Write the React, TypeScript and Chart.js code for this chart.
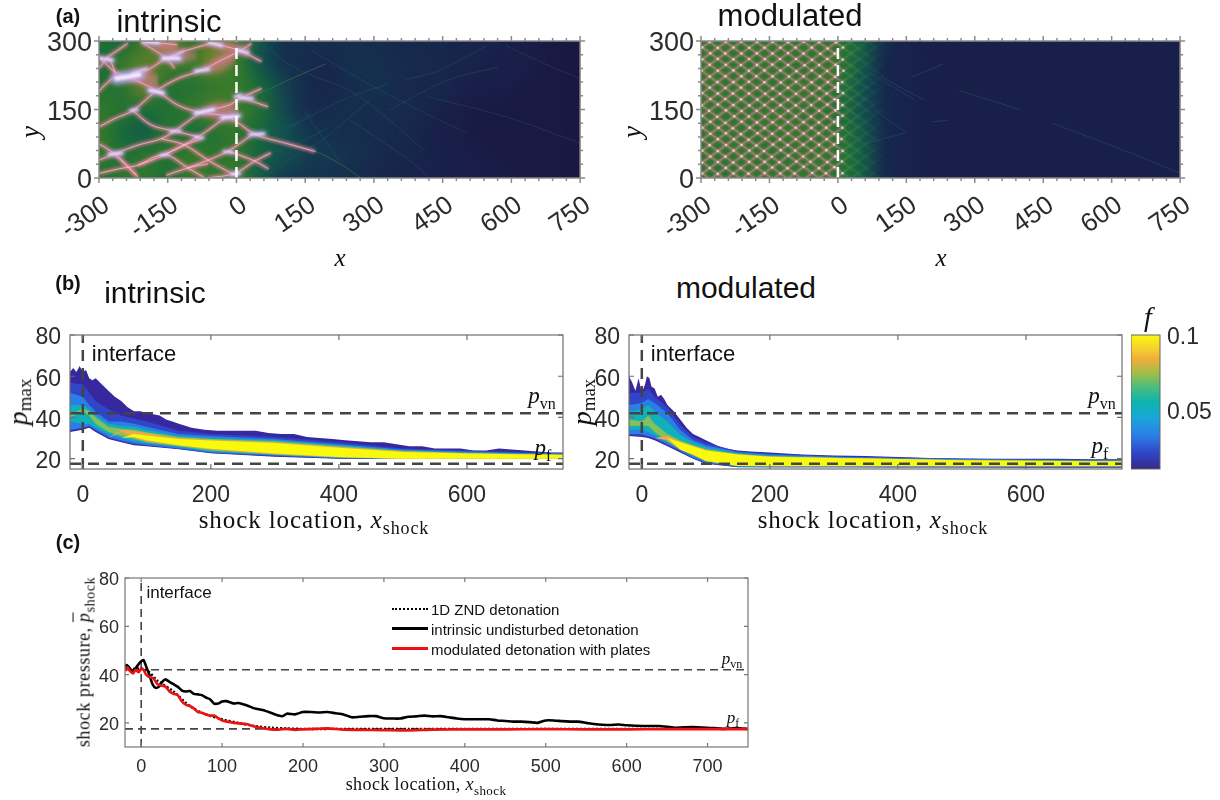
import React, { useEffect, useRef } from "react";
import { Chart, registerables } from "chart.js";

type Pt = [number, number];
const SANS = '"Liberation Sans", Arial, sans-serif';
const SERIF = '"Liberation Serif", "DejaVu Serif", serif';

// registered ahead of the filler, so that a dataset's soft fill is blurred as well
const softPlugin = {
  id: "soft",
  beforeDatasetDraw(chart: any, args: any) {
    const ds = chart.data.datasets[args.index];
    chart.ctx.save();
    if (ds.soft) chart.ctx.filter = `blur(${ds.soft}px)`;
  },
  afterDatasetDraw(chart: any) {
    chart.ctx.restore();
  },
};
Chart.register(softPlugin as any);
Chart.register(...registerables);

// ---------- panel (a): values ----------
const aXTicks = [-300, -150, 0, 150, 300, 450, 600, 750];
const aYTicks = [0, 150, 300];
const aXMinor = [-270, -240, -210, -180, -120, -90, -60, -30, 30, 60, 90, 120, 180, 210, 240, 270, 330, 360, 390, 420, 480, 510, 540, 570, 630, 660, 690, 720];
const aYMinor = [30, 60, 90, 120, 180, 210, 240, 270];
const fieldX = [-300, -250, -200, -150, -100, -50, 0, 50, 100, 150, 200, 250, 300, 350, 400, 450, 500, 550, 600, 650, 700, 750];
const fieldY = [300, 250, 200, 150, 100, 50, 0];
const intrinsicField = [
  [0.48, 0.42, 0.58, 0.68, 0.52, 0.66, 0.58, 0.33, 0.17, 0.15, 0.15, 0.15, 0.14, 0.13, 0.12, 0.11, 0.1, 0.09, 0.07, 0.05, 0.03, 0.02],
  [0.44, 0.56, 0.62, 0.58, 0.56, 0.64, 0.56, 0.33, 0.18, 0.14, 0.12, 0.16, 0.16, 0.14, 0.13, 0.11, 0.1, 0.08, 0.07, 0.05, 0.03, 0.02],
  [0.5, 0.5, 0.64, 0.5, 0.5, 0.54, 0.56, 0.44, 0.26, 0.14, 0.11, 0.14, 0.16, 0.14, 0.12, 0.11, 0.08, 0.07, 0.05, 0.04, 0.03, 0.02],
  [0.54, 0.5, 0.46, 0.48, 0.54, 0.6, 0.58, 0.48, 0.28, 0.15, 0.14, 0.16, 0.14, 0.14, 0.12, 0.08, 0.05, 0.04, 0.04, 0.03, 0.03, 0.02],
  [0.56, 0.44, 0.36, 0.52, 0.46, 0.5, 0.54, 0.42, 0.32, 0.21, 0.16, 0.15, 0.14, 0.13, 0.1, 0.07, 0.05, 0.04, 0.04, 0.03, 0.03, 0.02],
  [0.54, 0.48, 0.52, 0.5, 0.56, 0.52, 0.54, 0.4, 0.3, 0.23, 0.2, 0.17, 0.14, 0.11, 0.1, 0.08, 0.06, 0.05, 0.04, 0.04, 0.03, 0.02],
  [0.48, 0.53, 0.53, 0.46, 0.56, 0.54, 0.56, 0.36, 0.22, 0.19, 0.17, 0.15, 0.12, 0.1, 0.09, 0.08, 0.07, 0.05, 0.05, 0.04, 0.03, 0.02],
];
const modulatedField = [
  [0.52, 0.54, 0.52, 0.53, 0.54, 0.52, 0.52, 0.4, 0.16, 0.09, 0.08, 0.08, 0.08, 0.08, 0.08, 0.08, 0.08, 0.08, 0.08, 0.08, 0.08, 0.08],
  [0.54, 0.53, 0.52, 0.54, 0.52, 0.53, 0.53, 0.36, 0.12, 0.09, 0.08, 0.08, 0.08, 0.08, 0.08, 0.08, 0.08, 0.08, 0.08, 0.08, 0.08, 0.08],
  [0.53, 0.54, 0.54, 0.52, 0.54, 0.54, 0.51, 0.32, 0.13, 0.09, 0.08, 0.08, 0.08, 0.08, 0.08, 0.08, 0.08, 0.08, 0.08, 0.08, 0.08, 0.08],
  [0.54, 0.52, 0.53, 0.54, 0.53, 0.52, 0.49, 0.3, 0.14, 0.09, 0.08, 0.08, 0.08, 0.08, 0.08, 0.08, 0.08, 0.08, 0.08, 0.08, 0.08, 0.08],
  [0.52, 0.54, 0.52, 0.53, 0.54, 0.53, 0.51, 0.36, 0.14, 0.09, 0.08, 0.08, 0.08, 0.08, 0.08, 0.08, 0.08, 0.08, 0.08, 0.08, 0.08, 0.08],
  [0.53, 0.51, 0.54, 0.52, 0.53, 0.54, 0.52, 0.38, 0.13, 0.09, 0.08, 0.08, 0.08, 0.08, 0.08, 0.08, 0.08, 0.08, 0.08, 0.08, 0.08, 0.08],
  [0.51, 0.5, 0.53, 0.54, 0.52, 0.53, 0.51, 0.38, 0.14, 0.09, 0.08, 0.08, 0.08, 0.08, 0.08, 0.08, 0.08, 0.08, 0.08, 0.08, 0.08, 0.08],
];
const fieldStops: [number, number[]][] = [
  [0, [26, 20, 62]], [0.08, [24, 32, 74]], [0.2, [20, 54, 80]], [0.32, [18, 84, 78]], [0.45, [24, 108, 56]],
  [0.56, [54, 122, 42]], [0.66, [116, 128, 44]], [0.76, [196, 136, 120]], [0.88, [226, 170, 200]], [1, [255, 255, 255]],
];

const cellArcs1: Pt[][] = [
  [[-300, 189], [-288, 203], [-262, 222], [-237, 219], [-200, 233], [-153, 262], [-120, 276], [-55, 295]],
  [[-237, 222], [-175, 192], [-127, 159], [-76, 143], [-18, 134], [40, 96], [108, 76], [172, 58]],
  [[-300, 266], [-266, 233], [-237, 222]],
  [[-208, 298], [-153, 262], [-135, 240]],
  [[-175, 192], [-127, 218], [-76, 236], [-33, 258], [11, 280], [33, 295]],
  [[-55, 295], [4, 280], [55, 255]],
  [[-300, 112], [-266, 130], [-226, 148], [-175, 192]],
  [[-226, 148], [-186, 116], [-135, 103], [-84, 90]],
  [[-300, 75], [-266, 53], [-218, 6]],
  [[-300, 39], [-266, 53], [-215, 72], [-164, 86], [-135, 103], [-76, 143], [-18, 159], [11, 176], [55, 196]],
  [[11, 176], [69, 156]],
  [[-157, 51], [-84, 90], [-22, 134]],
  [[-300, 10], [-257, 20], [-215, 28], [-157, 51], [-113, 72], [-76, 86]],
  [[-164, 86], [-113, 72], [-62, 39], [-4, 6]],
  [[-215, 28], [-157, 51], [-106, 22], [-69, 0]],
  [[-106, 22], [-62, 39], [-18, 59], [33, 94]],
  [[-153, 6], [-106, 22], [-62, 31]],
  [[-18, 59], [40, 37], [70, 20]],
  [[-62, 0], [-4, 10], [40, 37], [75, 55]],
  [[-266, 53], [-244, 31], [-215, 2]],
  [[-285, 262], [-237, 295]],
  [[-300, 240], [-280, 262], [-262, 222]],
  [[-208, 298], [-175, 296], [-130, 292]],
];
// x0, y0, x1, y1, width
const hotStreaks1: number[][] = [
  [-262, 218, -212, 226, 9], [-228, 228, -195, 240, 3], [-190, 192, -160, 186, 5], [-160, 262, -125, 262, 6], [-142, 264, -115, 278, 2],
  [-90, 234, -60, 238, 4], [4, 280, 25, 274, 4], [-90, 142, -50, 150, 5], [-32, 132, 5, 136, 5], [5, 176, 35, 174, 4], [30, 95, 60, 97, 4],
  [-278, 52, -250, 54, 4], [-298, 262, -270, 258, 4], [-232, 148, -215, 150, 3], [-145, 102, -122, 103, 3], [-92, 90, -72, 88, 3],
  [-28, 58, -8, 56, 3], [-60, 296, -32, 290, 4], [-200, 298, -170, 296, 4], [-165, 50, -148, 52, 3], [-10, 8, 6, 10, 4], [-4, 178, 10, 182, 3],
];
// x, upper edge, lower edge of the pink tails behind the triple points
const tailX1 = [-153, -125, -85];
const tailA1 = [264, 282, 272];
const tailB1 = [258, 252, 262];
const tailX2 = [-237, -200, -170];
const tailA2 = [224, 238, 222];
const tailB2 = [214, 205, 190];
const tailX3 = [-76, -40, 0];
const tailA3 = [240, 268, 285];
const tailB3 = [232, 232, 255];
const tailX4 = [-55, -20, 30];
const tailA4 = [299, 299, 285];
const tailB4 = [290, 275, 268];
const tailX5 = [-76, -45, 5];
const tailA5 = [148, 165, 160];
const tailB5 = [138, 130, 120];
const tailX6 = [-190, -155, -125];
const tailA6 = [299, 299, 290];
const tailB6 = [296, 270, 268];
const faintArcs1: Pt[][] = [
  [[36, 178], [130, 222], [195, 250]],
  [[108, 76], [172, 58], [223, 33], [270, 1]],
  [[367, 214], [444, 236], [546, 290]],
  [[588, 290], [673, 250], [750, 218]],
  [[333, 149], [461, 214], [571, 243]],
  [[108, 105], [231, 171], [333, 207]],
  [[163, 280], [274, 214], [384, 156], [503, 98]],
  [[418, 178], [588, 134], [750, 76]],
  [[248, 127], [376, 40], [418, 4]],
  [[146, 149], [223, 40]],
  [[40, 96], [121, 116], [163, 142]],
  [[27, 40], [120, 70], [200, 110]],
  [[60, 0], [130, 50], [190, 85], [290, 170]],
  [[60, 290], [130, 240], [250, 190], [330, 130], [410, 60]],
];
const latticeUp: number[][] = [
  [-300, -292, 110, 8], [-300, -268, 110, 34], [-300, -240, 110, 58], [-300, -218, 110, 84], [-300, -190, 110, 110], [-300, -167, 110, 132],
  [-300, -140, 110, 160], [-300, -118, 110, 184], [-300, -92, 110, 210], [-300, -66, 110, 232], [-300, -42, 110, 258], [-300, -18, 110, 284],
  [-300, 8, 110, 306], [-300, 32, 110, 332], [-300, 58, 110, 358], [-300, 82, 110, 380], [-300, 108, 110, 408], [-300, 134, 110, 434],
  [-300, 158, 110, 458], [-300, 184, 110, 482], [-300, 208, 110, 508], [-300, 234, 110, 534], [-300, 258, 110, 558], [-300, 284, 110, 582],
];
const latticeDown: number[][] = [
  [-300, 12, 110, -288], [-300, 36, 110, -266], [-300, 62, 110, -238], [-300, 86, 110, -216], [-300, 112, 110, -186], [-300, 138, 110, -164],
  [-300, 160, 110, -140], [-300, 188, 110, -110], [-300, 212, 110, -90], [-300, 236, 110, -62], [-300, 262, 110, -38], [-300, 288, 110, -14],
  [-300, 312, 110, 10], [-300, 338, 110, 36], [-300, 362, 110, 64], [-300, 388, 110, 86], [-300, 412, 110, 114], [-300, 438, 110, 136],
  [-300, 462, 110, 164], [-300, 488, 110, 186], [-300, 512, 110, 214], [-300, 538, 110, 236], [-300, 564, 110, 266], [-300, 590, 110, 288],
];
const faintArcs2: Pt[][] = [
  [[469, 120], [605, 69], [750, 11]],
  [[265, 192], [401, 149]],
  [[163, 221], [231, 250]],
  [[206, 123], [240, 126]],
  [[61, 76], [146, 98]],
  [[95, 221], [189, 171]],
  [[80, 150], [120, 120], [150, 100]],
  [[70, 230], [120, 200], [170, 170]],
];
const interfaceA: Pt[] = [[0, 0], [0, 300]];

// ---------- panel (b): values ----------
const bXTicks = [0, 200, 400, 600];
const bYTicks = [20, 40, 60, 80];
const fTicks = [0.05, 0.1];
const pvn = 42;
const pf = 17.5;
const bandX = [-20, 0, 10, 20, 40, 60, 80, 100, 150, 200, 300, 400, 500, 600, 700, 750];

const b1EdgeX = [-20, -15, -10, -5, 0, 5, 10, 15, 20, 30, 40, 50, 60, 70, 80, 90, 100, 110, 120, 130, 140, 150, 170, 190, 210, 230, 250, 270, 290, 310, 330, 350, 370, 390, 410, 430, 450, 470, 490, 510, 530, 550, 570, 590, 610, 630, 650, 670, 690, 710, 730, 750];
const b1EdgeTop = [62, 64, 62, 65, 62, 63, 59, 58, 59, 56, 53, 50, 48, 45, 43, 43, 42, 41.5, 41, 39, 38, 37, 35, 34, 33.5, 33.5, 33.5, 33.5, 32.5, 32, 32, 30.5, 30, 29.5, 29, 28.5, 28, 28, 27, 26, 26, 25, 25, 25, 24, 24, 25, 24.5, 24, 23.5, 23, 23];
const b1Low0 = [33, 34, 35, 33, 29.5, 28, 26.5, 26, 24.6, 22.6, 21, 20, 20, 20, 20, 20];
const b1TopA = [57, 56, 52, 48, 44, 41, 39.5, 38, 33.5, 32, 30.5, 28, 25, 24, 23, 22.8];
const b1LowA = [33.5, 34.5, 35.5, 33.5, 30, 28.4, 27, 26.3, 24.8, 22.8, 21.2, 20.1, 20, 20, 20, 20];
const b1Top1 = [52, 50, 46, 43, 38, 38, 37, 35.5, 32, 31, 29.5, 27, 24.5, 23.5, 22.7, 22.5];
const b1Low1 = [34, 35, 36, 34, 30.5, 28.8, 27.5, 26.7, 25, 23, 21.5, 20.2, 20, 20, 20, 20];
const b1Top2 = [46, 46, 44, 41, 37, 36, 35.5, 34, 31, 30, 29, 26.5, 24, 23, 22.5, 22.3];
const b1Low2 = [38, 37, 37, 35, 32, 30, 28.5, 27.5, 25.7, 23.5, 21.8, 20.4, 20, 20, 20, 20];
const b1Top3 = [41, 44.5, 43, 40, 35.5, 34.5, 34, 32.8, 30.5, 29.5, 28.5, 26, 23.8, 22.8, 22.2, 22];
const b1Low3 = [40, 43, 41, 37, 33, 31, 29.5, 28, 26, 24, 22, 20.6, 20, 20, 20, 20];
const b1Top4 = [30, 30, 30, 30, 30, 34, 33.6, 32.3, 30, 29.2, 28, 25.7, 23.5, 22.6, 22.1, 21.9];
const b1Low4 = [30, 30, 30, 30, 30, 33, 30, 28.4, 26.3, 24.4, 22.2, 20.7, 20, 20, 20, 20];
const b1Top5 = [30, 30, 30, 30, 30, 30, 32, 31.2, 29.5, 28.8, 27.6, 25.3, 23.3, 22.5, 22, 21.8];
const b1Low5 = [30, 30, 30, 30, 30, 30, 30.5, 29, 26.5, 24.8, 22.5, 20.8, 20, 20, 20, 20];

const b2EdgeX = [-20, -15, -10, -5, 0, 5, 8, 12, 15, 20, 25, 30, 35, 40, 50, 60, 70, 80, 90, 100, 110, 120, 130, 140, 150, 170, 200, 250, 300, 350, 400, 450, 500, 550, 600, 650, 700, 750];
const b2EdgeTop = [60, 57, 53, 59, 52, 56, 60, 59, 55, 54, 50, 51, 49, 46, 43, 39, 35, 32, 30.5, 29, 27.5, 26, 25, 24.5, 24, 23.5, 23, 22, 21.5, 21.3, 20.8, 20.3, 20.1, 20, 20, 20, 19.7, 19.7];
const b2Low0 = [31, 30.5, 30, 29, 26, 23, 20, 17.5, 15.9, 15.8, 15.8, 15.7, 15.7, 15.6, 15.6, 15.6];
const b2TopA = [52, 52, 54, 50, 45, 36.5, 30.5, 27.7, 23.6, 22.5, 21.2, 20.6, 20, 19.7, 19.5, 19.5];
const b2LowA = [31.5, 31, 30.5, 29.5, 26.5, 23.5, 20.2, 17.8, 16, 15.9, 15.9, 15.9, 15.9, 15.9, 15.9, 15.9];
const b2Top1 = [46, 47, 49, 47, 42, 34, 29, 26.5, 23.2, 22, 21, 20.3, 19.8, 19.5, 19.4, 19.4];
const b2Low1 = [32, 32, 31, 30, 27, 24, 20.5, 18, 16.1, 16, 16, 16, 16, 16, 16, 16];
const b2Top2 = [43, 44, 46, 43, 38, 31.5, 28, 25.5, 22.6, 21.5, 20.7, 20, 19.5, 19.2, 19, 19];
const b2Low2 = [34, 34, 33, 31.5, 28, 25, 21.5, 18.7, 16.3, 16.2, 16.2, 16.2, 16.2, 16.2, 16.2, 16.2];
const b2Top3 = [39, 38, 41, 37, 32, 28.8, 26.6, 24.6, 22.3, 21.2, 20.5, 19.9, 19.4, 19.1, 18.9, 18.9];
const b2Low3 = [36, 36, 36, 33, 28.5, 24.3, 21.7, 18.8, 16.4, 16.3, 16.3, 16.3, 16.3, 16.3, 16.3, 16.3];
const b2Top4 = [30, 30, 30, 30, 31, 28.4, 26.3, 24.3, 22.1, 21.1, 20.4, 19.8, 19.3, 19, 18.85, 18.85];
const b2Low4 = [30, 30, 30, 30, 29, 24.4, 21.8, 18.9, 16.45, 16.35, 16.35, 16.35, 16.35, 16.35, 16.35, 16.35];
const b2Top5 = [30, 30, 30, 30, 30, 28, 26, 24, 22, 21, 20.3, 19.8, 19.3, 19, 18.8, 18.8];
const b2Low5 = [30, 30, 30, 30, 30, 24.5, 22, 19, 16.5, 16.4, 16.4, 16.4, 16.4, 16.4, 16.4, 16.4];

const bandColors = ["#38289f", "#3145c8", "#2a7fe6", "#12b0b8", "#86c058", "#eeaa44", "#f9f90e"];
const colorbarStops: [number, string][] = [
  [0, "#352a87"], [0.12, "#3145c8"], [0.25, "#2a7fe6"], [0.38, "#1aa5d8"], [0.5, "#0db4ae"], [0.62, "#52bd78"],
  [0.72, "#a4bd47"], [0.82, "#f0ad3c"], [0.9, "#f5d22e"], [1, "#f9f90e"],
];

// ---------- panel (c): values ----------
const cXTicks = [0, 100, 200, 300, 400, 500, 600, 700];
const cBlackX = [-20, -18, -15, -10, -5, 0, 3, 6, 10, 14, 18, 22, 26, 30, 35, 40, 45, 50, 55, 60, 65, 70, 75, 80, 85, 90, 95, 100, 105, 110, 115, 120, 130, 140, 150, 160, 170, 175, 180, 190, 200, 210, 220, 230, 240, 250, 260, 270, 280, 290, 300, 310, 320, 330, 340, 350, 360, 370, 380, 390, 400, 410, 420, 430, 440, 450, 460, 470, 480, 490, 500, 510, 520, 530, 540, 550, 560, 570, 580, 590, 600, 620, 640, 650, 660, 680, 700, 720, 735, 750];
const cBlackY = [42, 44, 43, 41, 43.5, 45.5, 46, 43.5, 40, 36, 34.5, 35, 37, 38, 37, 36, 35, 33.5, 33, 33.2, 32, 31.8, 31.5, 30.5, 29.8, 28, 28, 28.8, 29, 28.5, 28, 28.2, 27.3, 26, 25.3, 24.2, 23, 22.8, 23.8, 23.5, 24.5, 24.5, 24.3, 24.5, 24, 23.5, 22.3, 22.5, 22.8, 22.8, 21.9, 21.8, 21.8, 22.5, 22.7, 23, 22.7, 22.8, 22.3, 21.8, 21.5, 21.5, 21.5, 21.5, 21, 20.8, 20.5, 20.5, 20.3, 20, 21, 21, 20.7, 20.5, 20.5, 20, 19.5, 19.2, 19.1, 19.3, 19, 18.7, 18.7, 18.4, 18, 18.3, 18, 17.5, 17.8, 17.5];
const cRedX = [-20, -17, -14, -10, -7, -3, 0, 3, 6, 10, 15, 20, 25, 30, 35, 40, 45, 50, 55, 60, 65, 70, 75, 80, 85, 90, 95, 100, 110, 120, 130, 140, 150, 160, 170, 180, 190, 200, 215, 230, 250, 270, 300, 330, 360, 400, 450, 500, 550, 600, 650, 700, 750];
const cRedY = [41.5, 43, 41.5, 40.5, 42, 41, 42.5, 42, 40, 39, 38.5, 36, 35.5, 35, 33, 32, 31.5, 29, 27.5, 27, 26, 24.5, 24.2, 23.5, 23, 23, 22, 21, 20.3, 19.8, 19.5, 18.5, 17.8, 17.3, 17.2, 17.5, 17.1, 17.3, 17.5, 17.7, 17.2, 17.1, 17, 16.9, 17.2, 17.3, 17.3, 17.4, 17.3, 17.3, 17.4, 17.4, 17.4];
const cZndX = [-20, 0, 10, 20, 40, 60, 80, 100, 120, 140, 160, 180, 200, 250, 750];
const cZndY = [42, 42.5, 41, 37.5, 33, 27, 23.5, 21.5, 20, 18.7, 18, 17.7, 17.5, 17.5, 17.5];

// ---------- helpers ----------
const xy = (xs: number[], ys: number[]) => xs.map((x, i) => ({ x, y: ys[i] }));
const pts = (p: Pt[]) => p.map(([x, y]) => ({ x, y }));

function fieldColor(v: number) {
  let i = 0;
  while (i < fieldStops.length - 2 && v > fieldStops[i + 1][0]) i++;
  const [a, ca] = fieldStops[i];
  const [b, cb] = fieldStops[i + 1];
  const t = Math.min(1, Math.max(0, (v - a) / (b - a)));
  return `rgb(${ca.map((c, k) => Math.round(c + (cb[k] - c) * t)).join(",")})`;
}

const fieldPlugin = {
  id: "field",
  beforeDatasetsDraw(chart: any, _a: any, opts: any) {
    const grid: number[][] | undefined = opts.grid;
    if (!grid) return;
    const off = document.createElement("canvas");
    off.width = fieldX.length;
    off.height = fieldY.length;
    const o = off.getContext("2d")!;
    grid.forEach((row, r) => row.forEach((v, c) => {
      o.fillStyle = fieldColor(v);
      o.fillRect(c, r, 1, 1);
    }));
    const { ctx, chartArea: a, scales } = chart;
    const x0 = scales.x.getPixelForValue(fieldX[0] - 25);
    const x1 = scales.x.getPixelForValue(fieldX[fieldX.length - 1] + 25);
    const y0 = scales.y.getPixelForValue(fieldY[0] + 25);
    const y1 = scales.y.getPixelForValue(fieldY[fieldY.length - 1] - 25);
    ctx.save();
    ctx.beginPath();
    ctx.rect(a.left, a.top, a.width, a.height);
    ctx.clip();
    ctx.imageSmoothingEnabled = true;
    ctx.imageSmoothingQuality = "high";
    ctx.drawImage(off, x0, y0, x1 - x0, y1 - y0);
    ctx.restore();
  },
};

const framePlugin = {
  id: "frame",
  afterDatasetsDraw(chart: any, _a: any, o: any) {
    const { ctx, chartArea: a, scales } = chart;
    ctx.save();
    ctx.strokeStyle = o.color;
    ctx.lineWidth = o.width;
    ctx.strokeRect(a.left, a.top, a.width, a.height);
    const d = o.outward ? -1 : 1;
    const mark = (v: number, len: number) => {
      const p = scales.x.getPixelForValue(v);
      ctx.beginPath();
      ctx.moveTo(p, a.bottom); ctx.lineTo(p, a.bottom - d * len);
      ctx.moveTo(p, a.top); ctx.lineTo(p, a.top + d * len);
      ctx.stroke();
    };
    const markY = (v: number, len: number) => {
      const p = scales.y.getPixelForValue(v);
      ctx.beginPath();
      ctx.moveTo(a.left, p); ctx.lineTo(a.left + d * len, p);
      ctx.moveTo(a.right, p); ctx.lineTo(a.right - d * len, p);
      ctx.stroke();
    };
    (o.xMajor || []).forEach((v: number) => mark(v, o.major));
    (o.xMinor || []).forEach((v: number) => mark(v, o.minor));
    (o.yMajor || []).forEach((v: number) => markY(v, o.major));
    (o.yMinor || []).forEach((v: number) => markY(v, o.minor));
    ctx.restore();
  },
};

type Box = { left: number; top: number; right: number; bottom: number };

function axisOptions(values: number[], min: number, max: number, size: number, padding: number, rotate: number, labelOffset = 0) {
  return {
    type: "linear",
    min,
    max,
    border: { display: false },
    grid: { display: false, drawTicks: false },
    afterBuildTicks: (s: any) => { s.ticks = values.map((value) => ({ value })); },
    ticks: {
      autoSkip: false,
      padding,
      labelOffset,
      minRotation: rotate,
      maxRotation: rotate,
      color: "#2b2b2b",
      font: { family: SANS, size },
      callback: (v: any) => String(v),
    },
  };
}

function ChartPanel({ box, build, rightAxis }: { box: Box; build: () => any; rightAxis?: boolean }) {
  const ref = useRef<HTMLCanvasElement>(null);
  const M = rightAxis ? { l: 0, t: 30, r: 70, b: 30 } : { l: 70, t: 30, r: 28, b: 78 };
  useEffect(() => {
    const cfg = build();
    const c = new Chart(ref.current!, {
      ...cfg,
      plugins: [fieldPlugin, framePlugin],
      options: {
        animation: false,
        responsive: false,
        layout: { padding: { top: M.t, right: rightAxis ? 0 : M.r, left: 0, bottom: rightAxis ? M.b : 0 } },
        ...cfg.options,
        scales: {
          x: { ...cfg.options.scales.x, afterFit: (s: any) => { s.height = rightAxis ? 0 : M.b; } },
          y: { ...cfg.options.scales.y, afterFit: (s: any) => { s.width = rightAxis ? M.r : M.l; } },
        },
      },
    } as any);
    return () => c.destroy();
  }, []);
  return (
    <canvas
      ref={ref}
      width={box.right - box.left + M.l + M.r}
      height={box.bottom - box.top + M.t + M.b}
      style={{ position: "absolute", left: box.left - M.l, top: box.top - M.t, display: "block" }}
    />
  );
}

const noLegend = { legend: { display: false }, tooltip: { enabled: false } };

function lineSet(data: any[], color: any, width: number, extra: any = {}) {
  return { data, showLine: true, borderColor: color, backgroundColor: color, borderWidth: width, pointRadius: 0, tension: 0.35, fill: false, ...extra };
}

function fieldConfig(grid: number[][], build: () => any[]) {
  return {
    type: "scatter",
    data: { datasets: build() },
    options: {
      plugins: {
        ...noLegend,
        field: { grid },
        frame: { color: "#8a8a8a", width: 1.5, outward: true, major: 5, minor: 3, xMajor: aXTicks, xMinor: aXMinor, yMajor: aYTicks, yMinor: aYMinor },
      },
      scales: {
        x: axisOptions(aXTicks, -300, 750, 26, 12, 35, 8),
        y: axisOptions(aYTicks, 0, 300, 27, 7, 0, 3),
      },
    },
  };
}

function tail(xs: number[], top: number[], low: number[]) {
  const c = "rgba(205,125,125,0.72)";
  return [
    { data: xy(xs, top), showLine: true, borderWidth: 0, pointRadius: 0, fill: "+1", backgroundColor: c, borderColor: c, soft: 3, tension: 0.3 },
    { data: xy(xs, low), showLine: true, borderWidth: 0, pointRadius: 0, fill: false, borderColor: c, tension: 0.3 },
  ];
}

function intrinsicSets() {
  const sets: any[] = [];
  sets.push(lineSet(pts(interfaceA), "#ffffff", 2.5, { borderDash: [11, 6], tension: 0 }));
  hotStreaks1.forEach((h) => sets.push(lineSet([{ x: h[0], y: h[1] }, { x: h[2], y: h[3] }], "rgba(246,242,255,0.9)", h[4] * 0.5, { tension: 0, soft: 1, borderCapStyle: "round" })));
  hotStreaks1.forEach((h) => sets.push(lineSet([{ x: h[0], y: h[1] }, { x: h[2], y: h[3] }], "rgba(190,165,235,0.85)", h[4] * 1.4, { tension: 0, soft: 2, borderCapStyle: "round" })));
  cellArcs1.forEach((a) => sets.push(lineSet(pts(a), "rgba(250,225,235,0.62)", 0.9)));
  cellArcs1.forEach((a) => sets.push(lineSet(pts(a), "rgba(214,120,140,0.85)", 4, { soft: 1.4 })));
  faintArcs1.forEach((a, i) => sets.push(lineSet(pts(a), i < 2 ? "rgba(70,140,70,0.5)" : "rgba(40,110,105,0.32)", 1, { soft: 0.4 })));
  sets.push(...tail(tailX1, tailA1, tailB1), ...tail(tailX2, tailA2, tailB2), ...tail(tailX3, tailA3, tailB3));
  sets.push(...tail(tailX4, tailA4, tailB4), ...tail(tailX5, tailA5, tailB5), ...tail(tailX6, tailA6, tailB6));
  return sets;
}

function modulatedSets() {
  const sets: any[] = [];
  const fade = (halo: boolean) => (ctx: any) => {
    const { chart } = ctx;
    if (!chart.chartArea) return "#fff";
    const sx = chart.scales.x;
    const g = chart.ctx.createLinearGradient(sx.getPixelForValue(-300), 0, sx.getPixelForValue(110), 0);
    const s = 300 / 410;
    g.addColorStop(0, halo ? "rgba(215,125,135,0.85)" : "rgba(250,225,235,0.28)");
    g.addColorStop(s, halo ? "rgba(215,125,135,0.8)" : "rgba(250,225,235,0.25)");
    g.addColorStop(s + 0.05, "rgba(90,160,80,0.35)");
    g.addColorStop(0.9, "rgba(40,120,90,0.2)");
    g.addColorStop(1, "rgba(30,100,100,0)");
    return g;
  };
  const lattice = [...latticeUp, ...latticeDown];
  // white marks where the typed lattice lines cross
  const nodes: { x: number; y: number }[] = [];
  latticeUp.forEach((u) => latticeDown.forEach((d) => {
    const su = (u[3] - u[1]) / (u[2] - u[0]);
    const sd = (d[3] - d[1]) / (d[2] - d[0]);
    const x = -300 + (d[1] - u[1]) / (su - sd);
    const y = u[1] + su * (x + 300);
    if (x >= -300 && x <= 20 && y >= 0 && y <= 300) nodes.push({ x, y });
  }));
  sets.push(lineSet(pts(interfaceA), "#ffffff", 2.5, { borderDash: [11, 6], tension: 0 }));
  sets.push({ data: nodes, showLine: false, pointRadius: 1.3, pointStyle: "circle", backgroundColor: "rgba(240,232,250,0.75)", borderWidth: 0, soft: 0.7 });
  lattice.forEach((l) => sets.push(lineSet([{ x: l[0], y: l[1] }, { x: l[2], y: l[3] }], fade(false), 0.6, { tension: 0 })));
  lattice.forEach((l) => sets.push(lineSet([{ x: l[0], y: l[1] }, { x: l[2], y: l[3] }], fade(true), 2, { tension: 0, soft: 0.9 })));
  faintArcs2.forEach((a) => sets.push(lineSet(pts(a), "rgba(40,100,115,0.4)", 1, { soft: 0.4 })));
  return sets;
}

function bandPair(xs: number[], top: number[], lowX: number[], low: number[], color: string, soft = 0.7) {
  return [
    { data: xy(xs, top), showLine: true, borderWidth: 0, pointRadius: 0, fill: "+1", backgroundColor: color, borderColor: color, soft },
    { data: xy(lowX, low), showLine: true, borderWidth: 0, pointRadius: 0, fill: false, borderColor: color },
  ];
}

function dashed(data: Pt[], width: number, dash: number[]) {
  return lineSet(pts(data), "#444444", width, { borderDash: dash, tension: 0 });
}

function bConfig(bands: any[]) {
  return {
    type: "scatter",
    data: {
      datasets: [
        dashed([[0, 15], [0, 80]], 2.5, [11, 7]),
        dashed([[-20, pvn], [750, pvn]], 2.5, [11, 7]),
        dashed([[-20, pf], [750, pf]], 2.5, [11, 7]),
        ...bands,
      ],
    },
    options: {
      plugins: {
        ...noLegend,
        frame: { color: "#6e6e6e", width: 1.2, outward: false, major: 5, minor: 0, xMajor: bXTicks, yMajor: bYTicks },
      },
      scales: {
        x: axisOptions(bXTicks, -20, 750, 23, 13, 0),
        y: axisOptions(bYTicks, 15, 80, 23, 9, 0, 3),
      },
    },
  };
}

function colorbarConfig() {
  return {
    type: "bar",
    data: {
      labels: ["f"],
      datasets: [{
        data: [[0.01, 0.1]],
        barPercentage: 1,
        categoryPercentage: 1,
        backgroundColor: (ctx: any) => {
          const { chart } = ctx;
          if (!chart.chartArea) return "#000";
          const g = chart.ctx.createLinearGradient(0, chart.chartArea.bottom, 0, chart.chartArea.top);
          colorbarStops.forEach(([p, c]) => g.addColorStop(p, c));
          return g;
        },
      }],
    },
    options: {
      plugins: { ...noLegend, frame: { color: "#666666", width: 1, outward: false, major: 0, minor: 0 } },
      scales: {
        x: { display: false },
        y: {
          ...axisOptions(fTicks, 0.01, 0.1, 23, 7, 0, 3),
          position: "right",
        },
      },
    },
  };
}

function cConfig() {
  return {
    type: "scatter",
    data: {
      datasets: [
        lineSet(xy(cRedX, cRedY), "#ee1111", 2.6, { tension: 0.2 }),
        lineSet(xy(cBlackX, cBlackY), "#000000", 2.6, { tension: 0.2 }),
        lineSet(xy(cZndX, cZndY), "#000000", 2.4, { borderDash: [2, 2], tension: 0.3 }),
        dashed([[0, 10], [0, 80]], 1.6, [8, 5]),
        dashed([[-20, pvn], [750, pvn]], 1.6, [8, 5]),
        dashed([[-20, pf], [750, pf]], 1.6, [8, 5]),
      ],
    },
    options: {
      plugins: {
        ...noLegend,
        frame: { color: "#777777", width: 1.2, outward: false, major: 4, minor: 0, xMajor: cXTicks, yMajor: bYTicks },
      },
      scales: {
        x: axisOptions(cXTicks, -20, 750, 18, 9, 0),
        y: axisOptions(bYTicks, 10, 80, 18, 6, 0, 2),
      },
    },
  };
}

function T({ x, y, children, size = 20, font = SANS, rotate = 0, style = {} }: any) {
  return (
    <div style={{
      position: "absolute", left: x, top: y, whiteSpace: "nowrap", fontFamily: font, fontSize: size, lineHeight: 1, color: "#111",
      transform: `translate(-50%,-50%) rotate(${rotate}deg)`, ...style,
    }}>{children}</div>
  );
}

const sub = (s: string, size: number, drop = 0.35) => <span style={{ fontStyle: "normal", fontSize: size, verticalAlign: -size * drop }}>{s}</span>;
const it = (s: string) => <i>{s}</i>;

function LegendLine({ x, y, color, dotted }: any) {
  return <div style={{
    position: "absolute", left: x, top: y, width: 36, height: 0,
    borderTop: `${dotted ? 2.5 : 3}px ${dotted ? "dotted" : "solid"} ${color}`,
  }} />;
}

const a1Box = { left: 99, top: 41, right: 582, bottom: 178 };
const a2Box = { left: 701, top: 41, right: 1182, bottom: 178 };
const b1Box = { left: 70, top: 335, right: 563, bottom: 469 };
const b2Box = { left: 629, top: 335, right: 1122, bottom: 469 };
const fBox = { left: 1131, top: 335, right: 1160, bottom: 469 };
const cBox = { left: 125, top: 578, right: 748, bottom: 747 };
const legendText = ["1D ZND detonation", "intrinsic undisturbed detonation", "modulated detonation with plates"];

export default function App() {
  const bands1 = () => [
    ...bandPair(bandX, b1Top5, bandX, b1Low5, bandColors[6]),
    ...bandPair(bandX, b1Top4, bandX, b1Low4, bandColors[5]),
    ...bandPair(bandX, b1Top3, bandX, b1Low3, bandColors[4]),
    ...bandPair(bandX, b1Top2, bandX, b1Low2, bandColors[3]),
    ...bandPair(bandX, b1Top1, bandX, b1Low1, bandColors[2]),
    ...bandPair(bandX, b1TopA, bandX, b1LowA, bandColors[1]),
    ...bandPair(b1EdgeX, b1EdgeTop, bandX, b1Low0, bandColors[0], 0),
  ];
  const bands2 = () => [
    ...bandPair(bandX, b2Top5, bandX, b2Low5, bandColors[6]),
    ...bandPair(bandX, b2Top4, bandX, b2Low4, bandColors[5]),
    ...bandPair(bandX, b2Top3, bandX, b2Low3, bandColors[4]),
    ...bandPair(bandX, b2Top2, bandX, b2Low2, bandColors[3]),
    ...bandPair(bandX, b2Top1, bandX, b2Low1, bandColors[2]),
    ...bandPair(bandX, b2TopA, bandX, b2LowA, bandColors[1]),
    ...bandPair(b2EdgeX, b2EdgeTop, bandX, b2Low0, bandColors[0], 0),
  ];
  const serif = (s: number) => ({ fontFamily: SERIF, fontSize: s });
  return (
    <div style={{ position: "absolute", left: 0, top: 0, width: 1220, height: 800, background: "#fff", overflow: "hidden" }}>
      <ChartPanel box={a1Box} build={() => fieldConfig(intrinsicField, intrinsicSets)} />
      <ChartPanel box={a2Box} build={() => fieldConfig(modulatedField, modulatedSets)} />
      <ChartPanel box={b1Box} build={() => bConfig(bands1())} />
      <ChartPanel box={b2Box} build={() => bConfig(bands2())} />
      <ChartPanel box={fBox} build={colorbarConfig} rightAxis />
      <ChartPanel box={cBox} build={cConfig} />

      <T x={68} y={16} size={20} style={{ fontWeight: 700 }}>(a)</T>
      <T x={68} y={283} size={20} style={{ fontWeight: 700 }}>(b)</T>
      <T x={68} y={542} size={20} style={{ fontWeight: 700 }}>(c)</T>
      <T x={169} y={21} size={31}>intrinsic</T>
      <T x={790} y={15} size={31}>modulated</T>
      <T x={155} y={293} size={30}>intrinsic</T>
      <T x={746} y={288} size={30}>modulated</T>

      <T x={340} y={257} size={25} font={SERIF}>{it("x")}</T>
      <T x={941} y={257} size={25} font={SERIF}>{it("x")}</T>
      <T x={30} y={132} size={27} font={SERIF} rotate={-90}>{it("y")}</T>
      <T x={632} y={132} size={27} font={SERIF} rotate={-90}>{it("y")}</T>

      <T x={19} y={402} size={28} font={SERIF} rotate={-90}>{it("p")}{sub("max", 19, 0.2)}</T>
      <T x={583} y={402} size={28} font={SERIF} rotate={-90}>{it("p")}{sub("max", 19, 0.2)}</T>
      <T x={314} y={522} font={SERIF} style={{ ...serif(25), letterSpacing: 0.9 }}>shock location, {it("x")}{sub("shock", 18)}</T>
      <T x={873} y={522} font={SERIF} style={{ ...serif(25), letterSpacing: 0.9 }}>shock location, {it("x")}{sub("shock", 18)}</T>
      <T x={134} y={354} size={22}>interface</T>
      <T x={693} y={354} size={22}>interface</T>
      <T x={542} y={398} size={23} font={SERIF}>{it("p")}{sub("vn", 16)}</T>
      <T x={1102} y={398} size={23} font={SERIF}>{it("p")}{sub("vn", 16)}</T>
      <T x={543} y={450} size={23} font={SERIF}>{it("p")}{sub("f", 16)}</T>
      <T x={1100} y={448} size={23} font={SERIF}>{it("p")}{sub("f", 16)}</T>
      <T x={1148} y={317} size={28} font={SERIF}>{it("f")}</T>

      <T x={86} y={662} font={SERIF} rotate={-90} style={{ ...serif(18), letterSpacing: 0.6 }}>shock pressure, <span style={{ textDecoration: "overline" }}>{it("p")}</span>{sub("shock", 14)}</T>
      <T x={426} y={786} font={SERIF} style={{ ...serif(18), letterSpacing: 0.4 }}>shock location, {it("x")}{sub("shock", 13)}</T>
      <T x={179} y={592} size={17}>interface</T>
      <T x={732} y={660} size={17} font={SERIF}>{it("p")}{sub("vn", 12)}</T>
      <T x={733} y={719} size={17} font={SERIF}>{it("p")}{sub("f", 12)}</T>
      <LegendLine x={392} y={608} color="#000" dotted />
      <LegendLine x={392} y={627} color="#000" />
      <LegendLine x={392} y={647} color="#ee1111" />
      {legendText.map((t, i) => (
        <div key={t} style={{ position: "absolute", left: 431, top: 602 + i * 20, fontFamily: SANS, fontSize: 15, lineHeight: 1, whiteSpace: "nowrap", color: "#111" }}>{t}</div>
      ))}
    </div>
  );
}
